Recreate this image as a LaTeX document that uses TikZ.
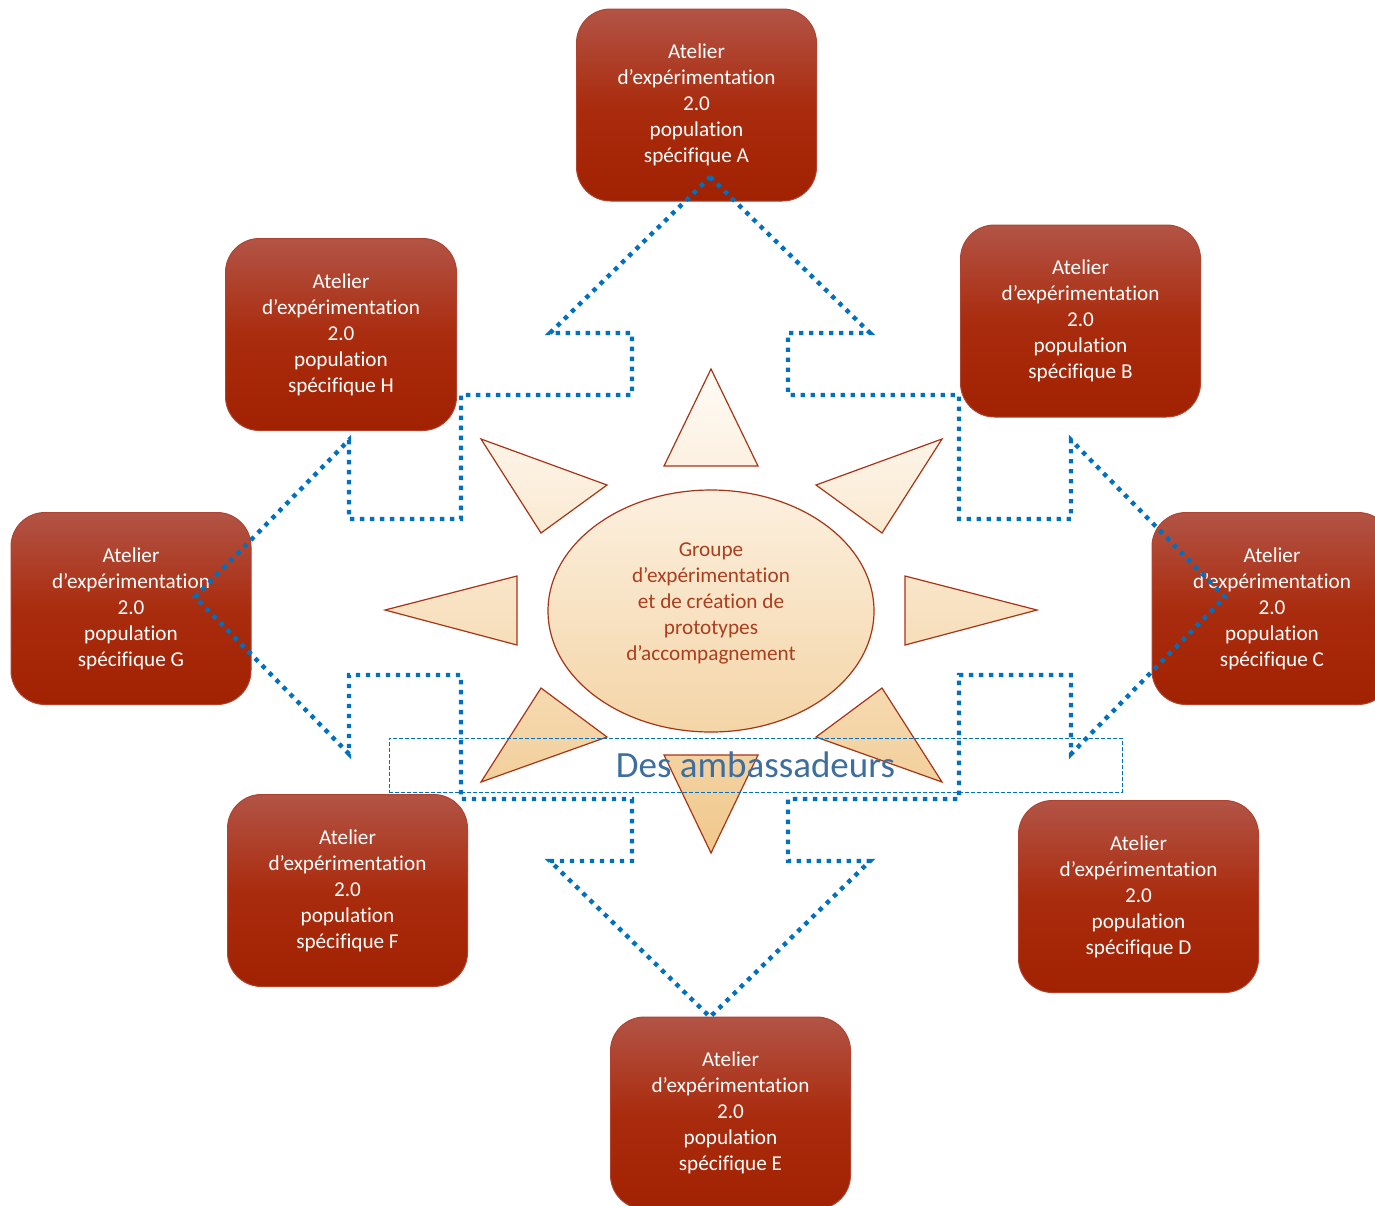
\documentclass[tikz,border=0pt]{standalone}
\usepackage{fontspec}
\setmainfont{Carlito}[Ligatures={NoCommon}]
\usetikzlibrary{shapes.geometric}
\definecolor{atelierHaut}{RGB}{178,84,70}
\definecolor{atelierMilieu}{RGB}{170,44,14}
\definecolor{atelierBas}{RGB}{160,34,2}
\definecolor{atelierBord}{RGB}{176,66,46}
\definecolor{flecheBleu}{RGB}{0,112,192}
\definecolor{soleilHaut}{RGB}{255,251,246}
\definecolor{soleilBas}{RGB}{240,200,140}
\definecolor{soleilBord}{RGB}{168,52,22}
\definecolor{groupeTexte}{RGB}{172,62,30}
\definecolor{ambassTexte}{RGB}{62,110,160}
\begin{document}
\begin{tikzpicture}[x=0.5pt,y=-0.5pt,
        atelier/.style={rectangle,rounded corners=17pt,minimum width=120pt,minimum height=96pt,
            inner sep=0pt,align=center,text=white,font=\fontsize{10.6}{13}\selectfont,
            top color=atelierHaut,bottom color=atelierBas,middle color=atelierMilieu,
            draw=atelierBord,line width=0.5pt},
        rayon/.style={draw=soleilBord,line width=0.6pt,line join=miter},
        fleche/.style={draw=flecheBleu,line width=2.2pt,dash pattern=on 2.2pt off 2.8pt},
        cadre/.style={draw=flecheBleu,line width=0.5pt,dash pattern=on 2pt off 1pt,
            minimum width=366.5pt,minimum height=27pt,inner sep=0pt,
            text=ambassTexte,font=\fontsize{18.5}{22}\selectfont}]
        \clip (0,0) rectangle (1375,1205);
        \fill[white] (0,0) rectangle (1375,1205);

        \draw[rayon,top color=soleilHaut,bottom color=soleilBas!20!soleilHaut] (711,369) -- (758,466) -- (664,466) -- cycle;
        \draw[rayon,top color=soleilBas!14!soleilHaut,bottom color=soleilBas!34!soleilHaut] (481,439) -- (607,485) -- (541,533) -- cycle;
        \draw[rayon,top color=soleilBas!14!soleilHaut,bottom color=soleilBas!34!soleilHaut] (942,439) -- (816,485) -- (882,533) -- cycle;
        \draw[rayon,top color=soleilBas!43!soleilHaut,bottom color=soleilBas!57!soleilHaut] (385,610) -- (517,576) -- (517,645) -- cycle;
        \draw[rayon,top color=soleilBas!43!soleilHaut,bottom color=soleilBas!57!soleilHaut] (1037,610) -- (905,576) -- (905,645) -- cycle;
        \draw[rayon,top color=soleilBas!66!soleilHaut,bottom color=soleilBas!85!soleilHaut] (541,688) -- (607,737) -- (481,782) -- cycle;
        \draw[rayon,top color=soleilBas!66!soleilHaut,bottom color=soleilBas!85!soleilHaut] (882,688) -- (816,737) -- (942,782) -- cycle;
        \draw[rayon,top color=soleilBas!80!soleilHaut,bottom color=soleilBas] (664,755) -- (758,755) -- (711,853) -- cycle;

        \draw[rayon,top color=soleilBas!22!soleilHaut,bottom color=soleilBas!75!soleilHaut] (711,611) ellipse [x radius=163,y radius=121];
        \node[align=center,text=groupeTexte,font=\fontsize{10.6}{13}\selectfont] (groupe) at (711,603)
            {Groupe\\d’expérimentation\\et de création de\\prototypes\\d’accompagnement};

        \node[atelier] (atelierA) at (696.5,105) {Atelier\\d’expérimentation\\2.0\\population\\spécifique A};
        \node[atelier] (atelierB) at (1080.5,321) {Atelier\\d’expérimentation\\2.0\\population\\spécifique B};
        \node[atelier] (atelierC) at (1272,608.5) {Atelier\\d’expérimentation\\2.0\\population\\spécifique C};
        \node[atelier] (atelierD) at (1138.5,896.5) {Atelier\\d’expérimentation\\2.0\\population\\spécifique D};
        \node[atelier] (atelierE) at (730.5,1113) {Atelier\\d’expérimentation\\2.0\\population\\spécifique E};
        \node[atelier] (atelierF) at (347.5,890.5) {Atelier\\d’expérimentation\\2.0\\population\\spécifique F};
        \node[atelier] (atelierG) at (131,608.5) {Atelier\\d’expérimentation\\2.0\\population\\spécifique G};
        \node[atelier,minimum width=115.5pt] (atelierH) at (341,334.5) {Atelier\\d’expérimentation\\2.0\\population\\spécifique H};

        \begin{scope}[shift={(710,597)}]
            \draw[fleche] (0,-420) -- (160,-264) -- (78,-264) -- (78,-202) -- (249,-202) -- (249,-78)
                -- (361,-78) -- (361,-157) -- (515,0) -- (361,157) -- (361,78) -- (249,78)
                -- (249,202) -- (78,202) -- (78,264) -- (160,264) -- (0,420) -- (-160,264)
                -- (-78,264) -- (-78,202) -- (-249,202) -- (-249,78) -- (-361,78) -- (-361,157)
                -- (-515,0) -- (-361,-157) -- (-361,-78) -- (-249,-78) -- (-249,-202) -- (-78,-202)
                -- (-78,-264) -- (-160,-264) -- cycle;
        \end{scope}

        \node[cadre] (ambassadeurs) at (755.5,765) {Des ambassadeurs};
    \end{tikzpicture}
\end{document}
